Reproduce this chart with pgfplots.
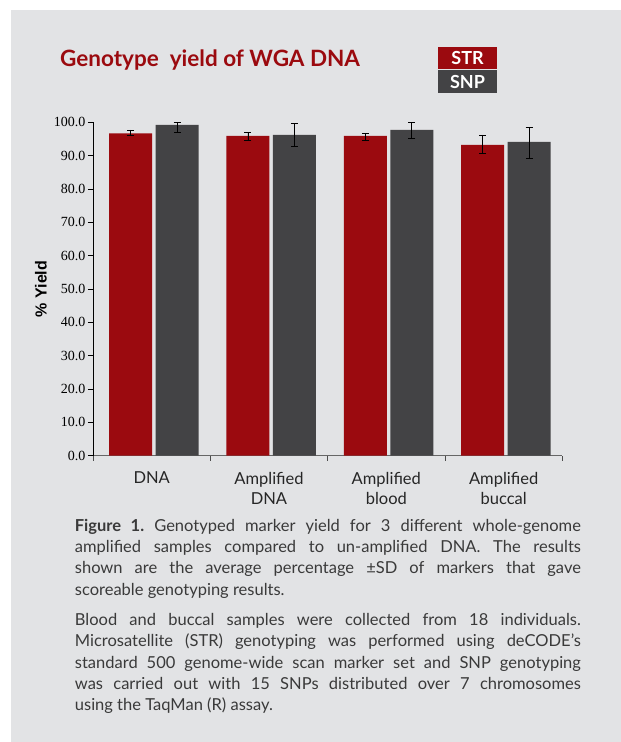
\documentclass[border=0pt]{standalone}
\usepackage{fontspec}
\setmainfont{Lato}
\newfontfamily\serif{Liberation Serif}
\newfontfamily\arial{Liberation Sans}
\usepackage{pgfplots}
\pgfplotsset{compat=1.18}
\usepackage{pgfplotstable}

\definecolor{panel}{HTML}{E2E3E5}
\definecolor{strred}{HTML}{9B0A0F}
\definecolor{snpgray}{HTML}{434345}
\definecolor{captxt}{HTML}{3A3A3A}

% x  value  err+  err-
\pgfplotstableread{
x y ep em
0 96.7 1.0 0.5
1 95.9 1.1 1.2
2 95.9 0.8 1.3
3 93.2 3.0 2.6
}\strdata
\pgfplotstableread{
x y ep em
0 99.2 0.8 2.1
1 96.2 3.4 3.3
2 97.7 2.3 2.5
3 94.1 4.3 4.9
}\snpdata

\begin{document}
\frenchspacing
\begin{tikzpicture}[x=1pt,y=1pt]
\useasboundingbox (0,0) rectangle (621,742);
\fill[white] (0,0) rectangle (621,742);
\fill[panel] (11,0) rectangle (621,732);

% title and legend boxes
\node[anchor=base west, inner sep=0, text=strred,
      font=\fontsize{22.5}{26}\selectfont\bfseries] at (60,675.3) {Genotype\ \ yield of WGA DNA};
\fill[strred] (438,673) rectangle (497,695);
\fill[snpgray] (438,649) rectangle (497,672);
\node[text=white, font=\fontsize{18}{20}\selectfont\bfseries] at (467.5,684) {STR};
\node[text=white, font=\fontsize{18}{20}\selectfont\bfseries] at (467.5,660.5) {SNP};

\begin{axis}[
    at={(93pt,286.4pt)}, anchor=south west,
    scale only axis,
    width=469.3pt, height=333.3pt,
    xmin=-0.5, xmax=3.5,
    ymin=0, ymax=100,
    axis x line*=bottom, axis y line*=left,
    x axis line style={-, draw=black!60, line width=1.3pt},
    y axis line style={-, draw=black, line width=0.8pt},
    xtick={-0.5,0.5,1.5,2.5,3.5}, xticklabels={},
    extra x ticks={0,1,2,3},
    extra x tick labels={DNA,Amplified\\DNA,Amplified\\blood,Amplified\\buccal},
    extra x tick style={major tick length=0pt,
        tick label style={align=center, yshift=-13pt,
            font=\fontsize{16.5}{20}\selectfont, text=black!85}},
    ytick={0,10,...,100},
    tick align=outside,
    major tick length=5pt,
    x tick style={draw=black!70, line width=0.8pt},
    y tick style={draw=black, line width=0.6pt},
    y tick label style={
        /pgf/number format/.cd, fixed, fixed zerofill, precision=1,
        assume math mode=true, /tikz/.cd,
        font=\serif\fontsize{14}{16}\selectfont, xshift=1pt},
    ylabel={\arial\bfseries\% Yield},
    y label style={at={(axis description cs:-0.1108,0.5)}, anchor=center,
        font=\fontsize{16}{18}\selectfont},
    ybar, bar width=43pt,
    clip=false,
]
\addplot[draw=none, fill=strred, bar shift=-21pt,
    error bars/.cd, y dir=both, y explicit,
    error bar style={black, line width=0.8pt},
    error mark options={rotate=90, mark size=3.5pt, line width=0.8pt}]
    table[x=x, y=y, y error plus=ep, y error minus=em] {\strdata};
\addplot[draw=none, fill=snpgray, bar shift=25.5pt,
    error bars/.cd, y dir=both, y explicit,
    error bar style={black, line width=0.8pt},
    error mark options={rotate=90, mark size=3.5pt, line width=0.8pt}]
    table[x=x, y=y, y error plus=ep, y error minus=em] {\snpdata};
\end{axis}

% caption
\node[anchor=base west, inner sep=0, text width=506pt, align=justify, text=captxt,
      font=\fontsize{16.5}{21.3}\selectfont] at (74.7,210.7) {%
\hyphenpenalty=10000\exhyphenpenalty=10000\frenchspacing
{\bfseries Figure 1.} Genotyped marker yield for 3 different whole-genome\linebreak
amplified samples compared to un-amplified DNA. The results\linebreak
shown are the average percentage \mbox{±SD} of markers that gave\linebreak
scoreable genotyping results.\par\vspace{9pt}
Blood and buccal samples were collected from 18 individuals.\linebreak
Microsatellite (STR) genotyping was performed using deCODE’s\linebreak
standard 500 genome-wide scan marker set and SNP genotyping\linebreak
was carried out with 15 SNPs distributed over 7 chromosomes\linebreak
using the TaqMan (R) assay.\par};
\end{tikzpicture}
\end{document}
